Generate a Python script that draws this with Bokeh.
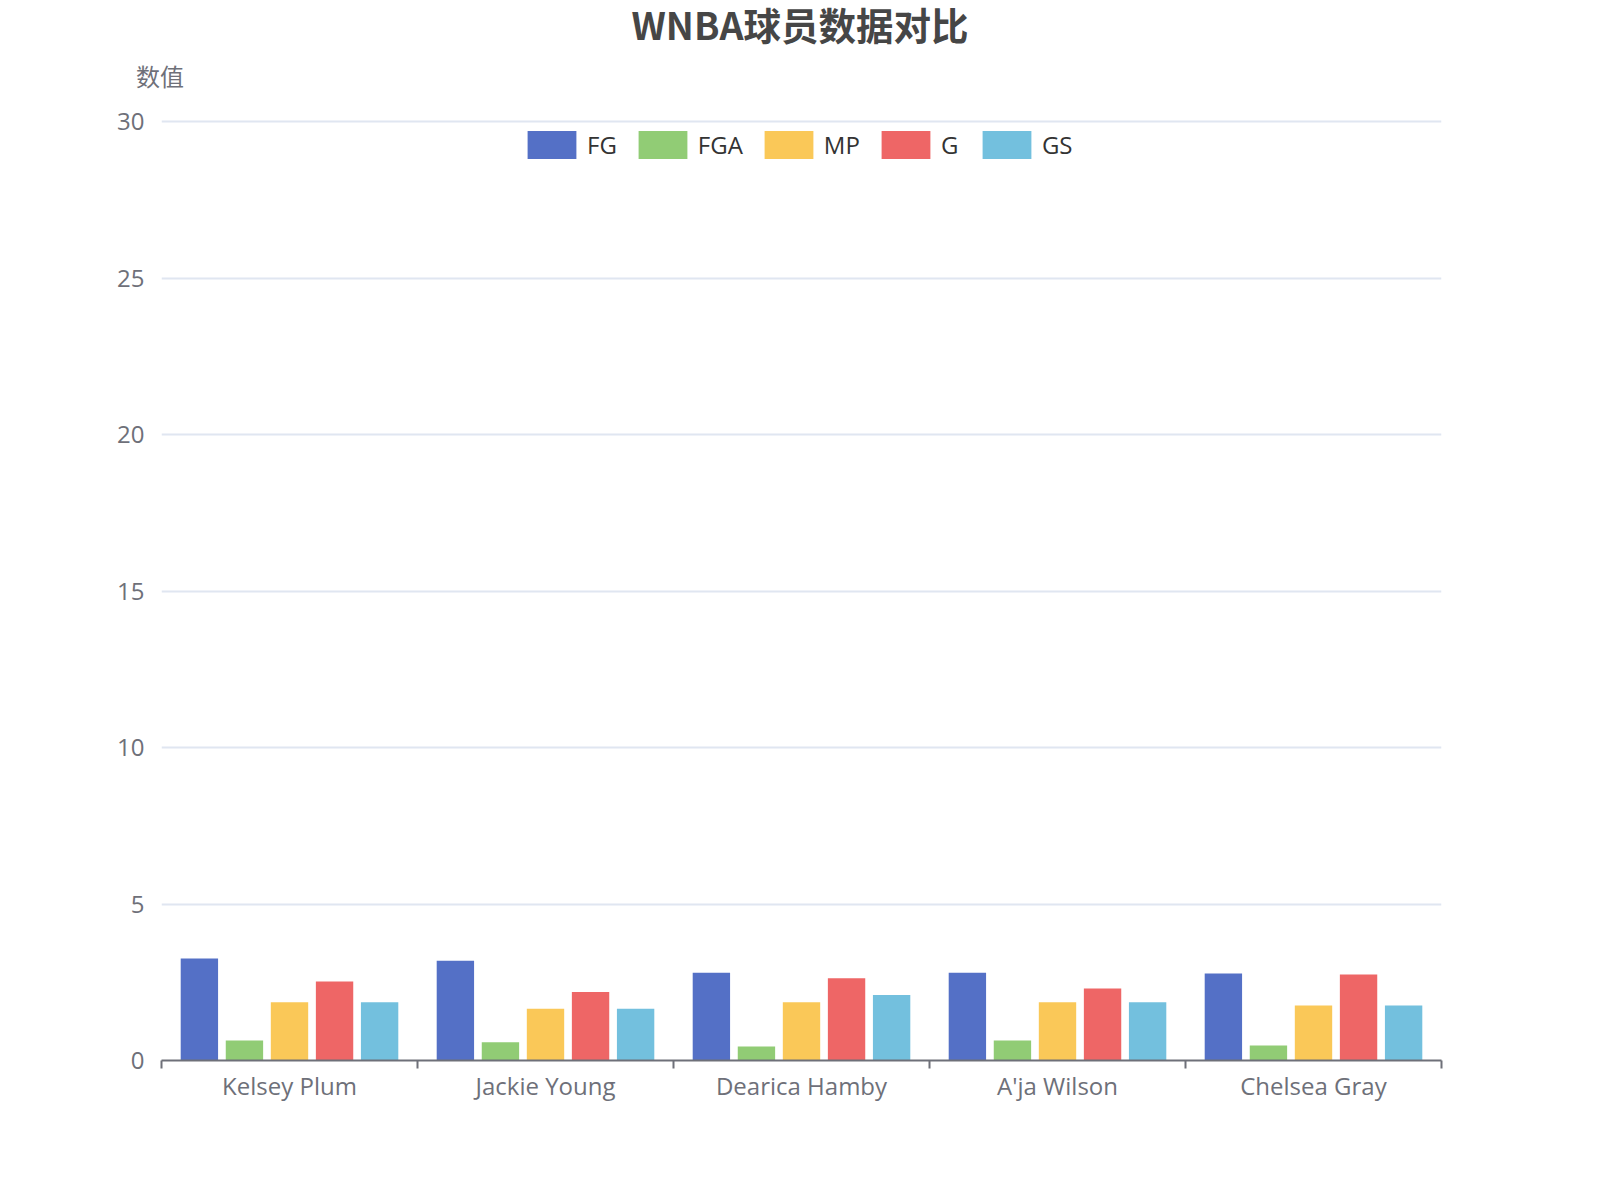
from bokeh.plotting import figure
from bokeh.layouts import column
from bokeh.models import (ColumnDataSource, FactorRange, Range1d, LinearAxis,
                          CategoricalAxis, FixedTicker, Div)
from bokeh.transform import dodge
from bokeh.embed import file_html
from bokeh.resources import INLINE

# ---- data ----
players = ["Kelsey Plum", "Jackie Young", "Dearica Hamby", "A'ja Wilson", "Chelsea Gray"]
series_names = ["FG", "FGA", "MP", "G", "GS"]
fg = [3.26, 3.19, 2.80, 2.80, 2.78]
fga = [0.64, 0.58, 0.45, 0.64, 0.48]
mp = [1.86, 1.65, 1.86, 1.86, 1.76]
g = [2.52, 2.19, 2.63, 2.30, 2.75]
gs = [1.86, 1.65, 2.09, 1.86, 1.76]
y_ticks = [0, 5, 10, 15, 20, 25, 30]
title_text = "WNBA球员数据对比"
y_name = "数值"

colors = ["#5470c6", "#91cc75", "#fac858", "#ee6666", "#73c0de"]
offsets = [-0.352, -0.176, 0.0, 0.176, 0.352]
bar_width = 0.146

FONT = "'Open Sans', 'Noto Sans CJK SC', sans-serif"
LABEL_COLOR = "#6E7079"

W = 1584
HEAD_H = 90
MAIN_H = 1184 - HEAD_H
FRAME_TOP = 119      # page y of frame top (a little above the 30 gridline so it is drawn)
FRAME_BOTTOM = 1060  # page y of the value-0 baseline
Y_MAX = 30 + (121 - FRAME_TOP) / 31.3

# ---- header (title + y-axis name) as real text ----
head_html = (
    f'<div style="position:relative;width:{W}px;height:{HEAD_H}px;margin:0;padding:0;">'
    f'<div style="position:absolute;left:16px;top:3px;width:1568px;text-align:center;'
    f'font-family:\'Noto Sans CJK SC\',sans-serif;font-weight:bold;font-size:37.5px;'
    f'line-height:42px;color:#464646;white-space:nowrap;">{title_text}</div>'
    f'<div style="position:absolute;left:110px;top:62px;width:100px;text-align:center;'
    f'font-family:\'Noto Sans CJK SC\',sans-serif;font-size:24px;line-height:28px;'
    f'color:{LABEL_COLOR};white-space:nowrap;">{y_name}</div>'
    f'</div>'
)
head = Div(text=head_html, width=W, height=HEAD_H, margin=0)

# ---- main chart ----
source = ColumnDataSource(data=dict(player=players, FG=fg, FGA=fga, MP=mp, G=g, GS=gs))

p = figure(x_range=FactorRange(factors=players), y_range=Range1d(0, Y_MAX),
           width=W, height=MAIN_H, output_backend="svg", toolbar_location=None,
           x_axis_location=None, min_border_left=161, min_border_right=W - 1441,
           min_border_top=FRAME_TOP - HEAD_H,
           min_border_bottom=MAIN_H - (FRAME_BOTTOM - HEAD_H))
p.outline_line_color = None
p.background_fill_color = "white"
p.border_fill_color = "white"

for name, col, off in zip(series_names, colors, offsets):
    p.vbar(x=dodge("player", off, range=p.x_range), top=name, width=bar_width,
           source=source, fill_color=col, line_color=None, legend_label=name)

# y axis
yax = p.yaxis[0]
yax.ticker = FixedTicker(ticks=y_ticks)
yax.axis_line_color = None
yax.major_tick_line_color = None
yax.minor_tick_line_color = None
yax.major_tick_out = 0
yax.major_tick_in = 0
yax.major_label_standoff = 17
yax.major_label_text_font = FONT
yax.major_label_text_font_size = "24px"
yax.major_label_text_color = LABEL_COLOR

for gr in p.xgrid:
    gr.visible = False
p.ygrid.grid_line_color = "#E0E6F1"
p.ygrid.grid_line_width = 2
p.ygrid.ticker = FixedTicker(ticks=y_ticks)

# x axis: ticks at category boundaries + axis line (synthetic coords of the categorical range)
tick_axis = LinearAxis(ticker=FixedTicker(ticks=list(range(len(players) + 1))))
tick_axis.axis_line_color = LABEL_COLOR
tick_axis.axis_line_width = 2
tick_axis.major_tick_line_color = LABEL_COLOR
tick_axis.major_tick_line_width = 2
tick_axis.major_tick_in = 0
tick_axis.major_tick_out = 8
tick_axis.minor_tick_line_color = None
tick_axis.major_label_text_font_size = "1px"
tick_axis.major_label_text_color = None
tick_axis.major_label_text_alpha = 0
tick_axis.major_label_standoff = 0
p.add_layout(tick_axis, "below")

label_axis = CategoricalAxis()
label_axis.axis_line_color = None
label_axis.major_tick_line_color = None
label_axis.major_tick_out = 0
label_axis.major_tick_in = 0
label_axis.major_label_standoff = 0
label_axis.major_label_text_font = FONT
label_axis.major_label_text_font_size = "24px"
label_axis.major_label_text_color = LABEL_COLOR
p.add_layout(label_axis, "below")

# legend (bokeh draws area glyphs at 80% of the glyph box)
lg = p.legend[0]
lg.orientation = "horizontal"
lg.location = (360, 898)
lg.margin = 0
lg.padding = 0
lg.spacing = 15
lg.glyph_width = 61
lg.glyph_height = 35
lg.label_standoff = 5
lg.label_text_font = FONT
lg.label_text_font_size = "24px"
lg.label_text_color = "#333333"
lg.background_fill_alpha = 0
lg.border_line_color = None

open("out.html", "w").write(file_html(column(head, p, spacing=0), INLINE))
